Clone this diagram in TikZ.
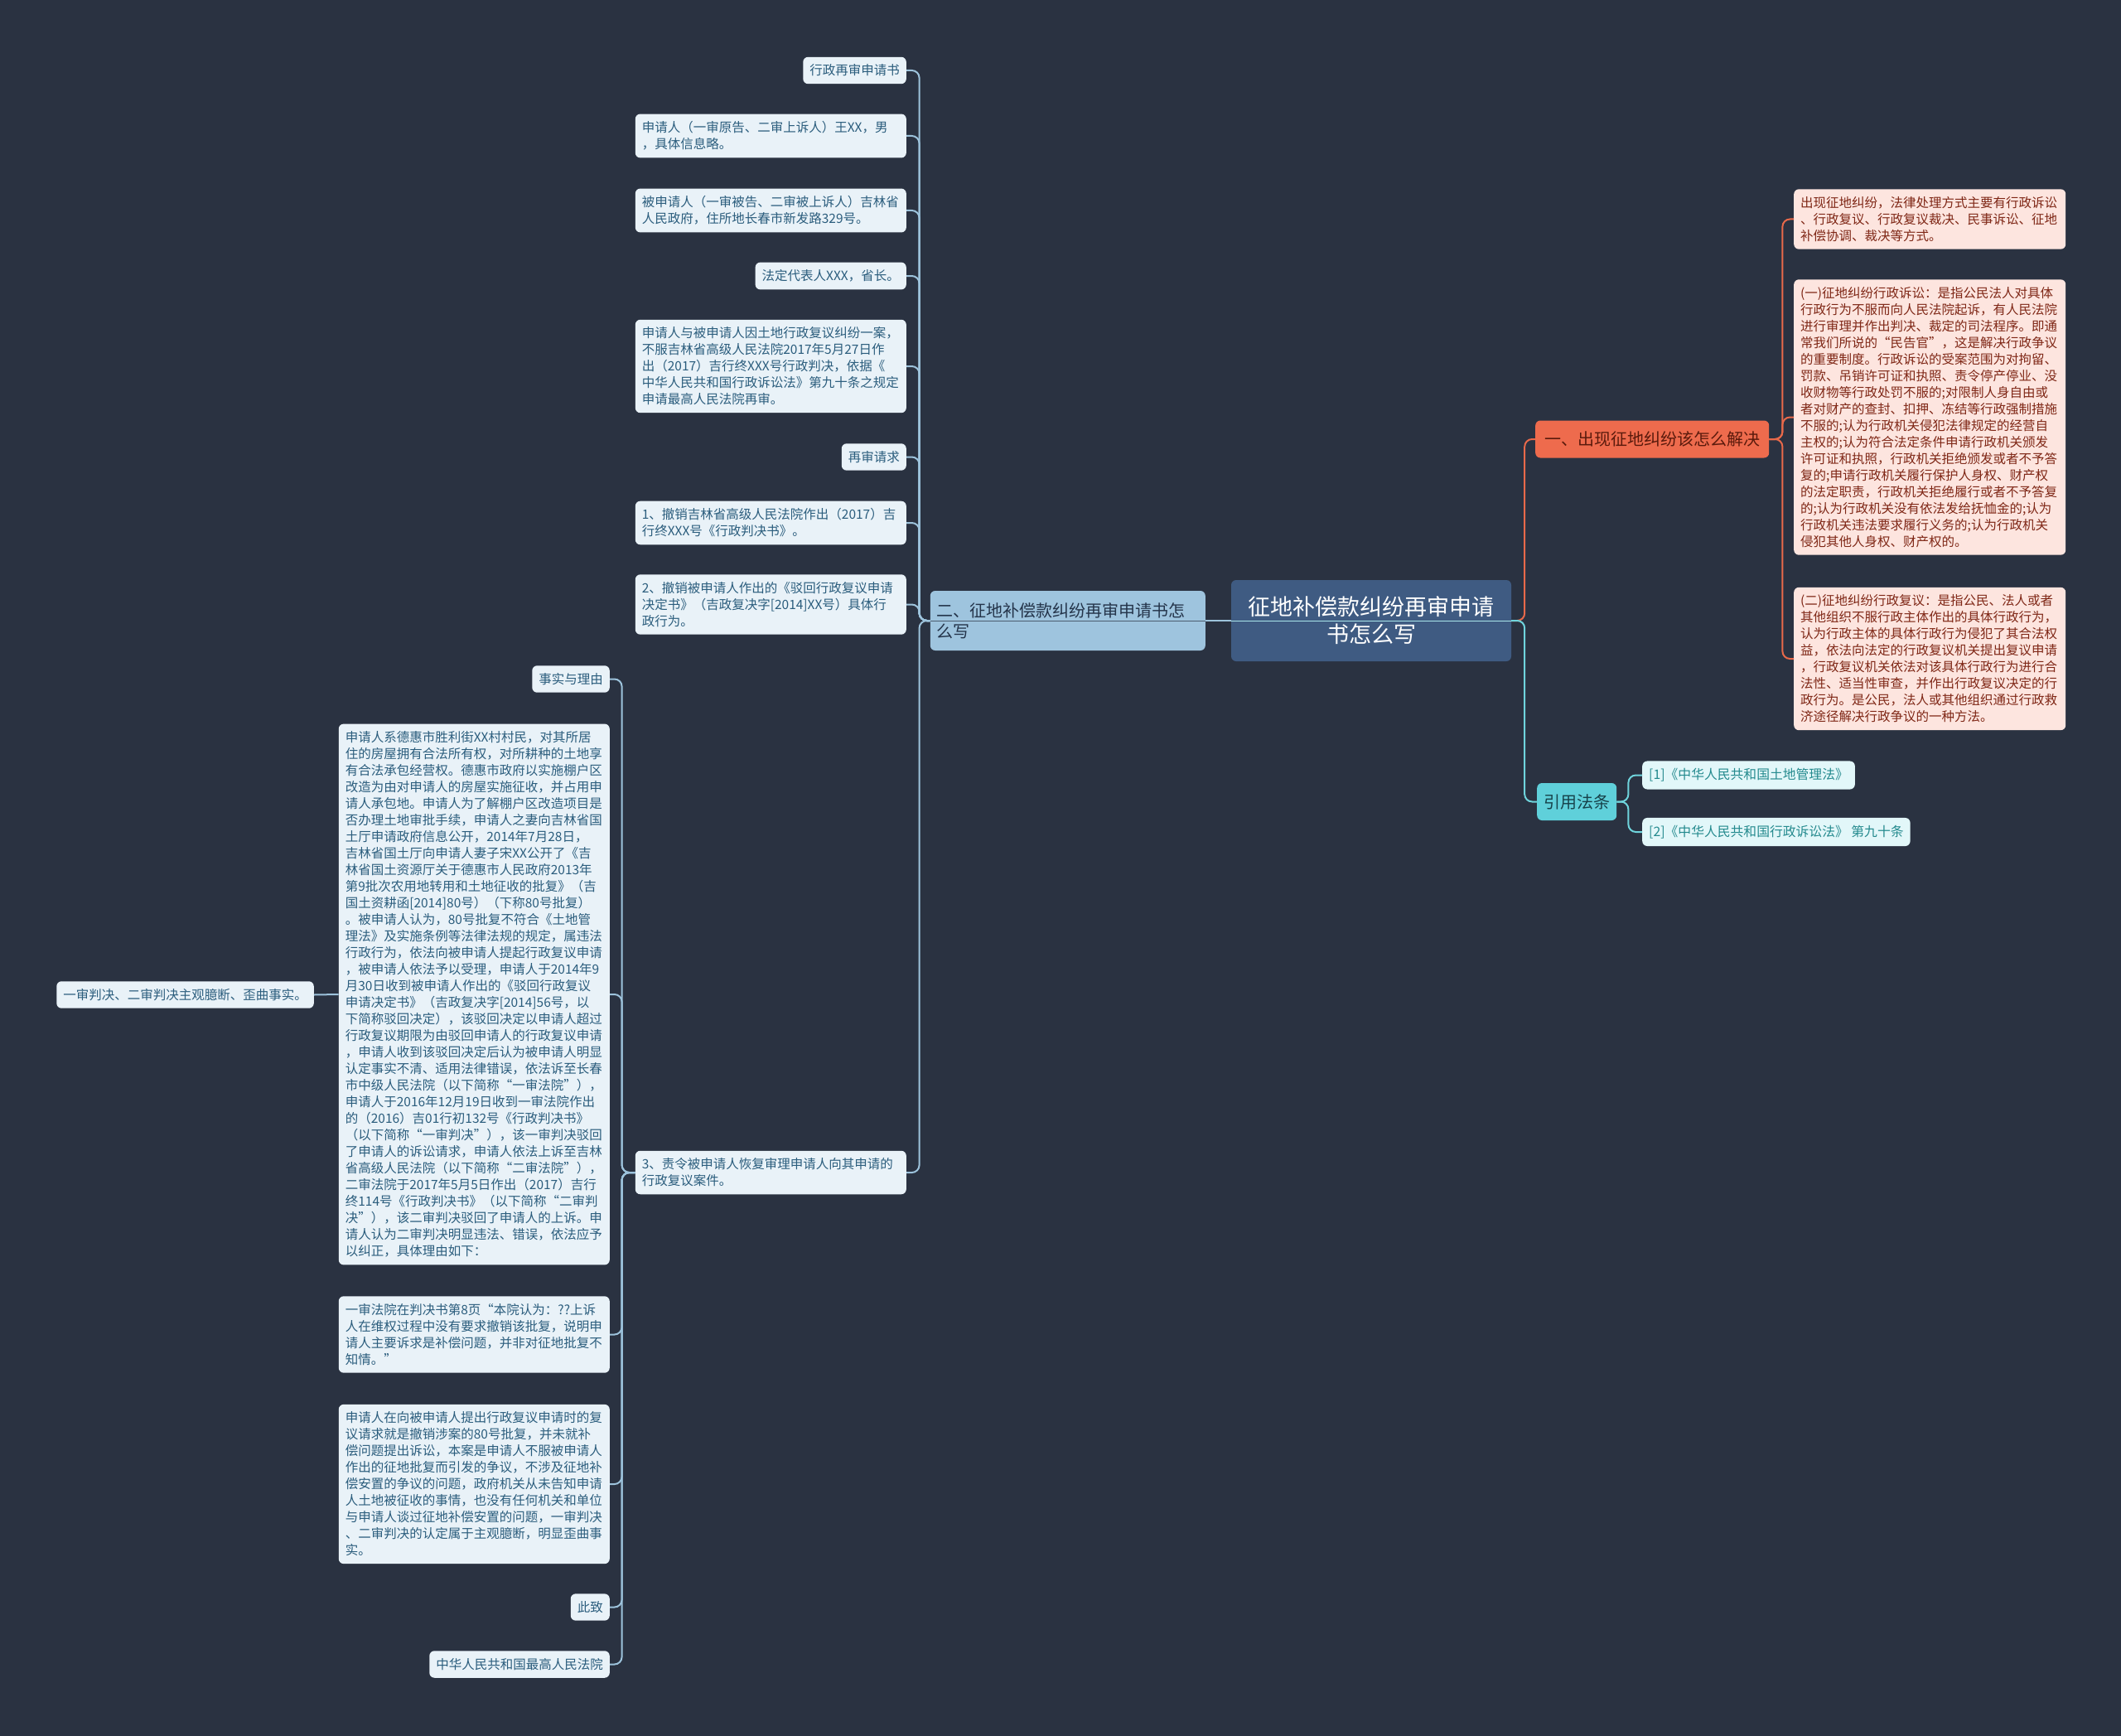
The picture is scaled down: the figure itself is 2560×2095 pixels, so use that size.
\documentclass[tikz,border=0pt]{standalone}
\usepackage{fontspec}
\setmainfont{Noto Sans CJK SC}
\usetikzlibrary{positioning,calc}
\definecolor{bgdark}{HTML}{2A3241}
\definecolor{rootfill}{HTML}{3F5B82}
\definecolor{secbfill}{HTML}{9EC4DE}
\definecolor{secbtext}{HTML}{24344A}
\definecolor{leaffill}{HTML}{E9F2F8}
\definecolor{leaftext}{HTML}{2B5D7D}
\definecolor{linkblue}{HTML}{9DC3DC}
\definecolor{secofill}{HTML}{EE6B4D}
\definecolor{secotext}{HTML}{5A1A0C}
\definecolor{linkorange}{HTML}{E8694A}
\definecolor{pinkfill}{HTML}{FDE5DF}
\definecolor{pinktext}{HTML}{7F2716}
\definecolor{seccfill}{HTML}{5FD0DA}
\definecolor{secctext}{HTML}{17424A}
\definecolor{linkcyan}{HTML}{6FD4DC}
\definecolor{citefill}{HTML}{E2F7F9}
\definecolor{citetext}{HTML}{248A8E}
\tikzset{
  mapnode/.style={rounded corners=6pt, inner xsep=8pt, inner ysep=9pt, align=left},
  leaf/.style={mapnode, fill=leaffill, text=leaftext, font=\fontsize{15.5}{20}\selectfont},
  leafwide/.style={leaf, text width=311pt},
  pinkleaf/.style={mapnode, fill=pinkfill, text=pinktext, text width=312pt,
                   font=\fontsize{15.5}{20}\selectfont},
  citeleaf/.style={mapnode, fill=citefill, text=citetext, font=\fontsize{15.8}{20}\selectfont},
  rootnode/.style={rounded corners=6pt, fill=rootfill, text=white, align=center,
                   minimum width=338pt, minimum height=98pt, font=\fontsize{27}{33}\selectfont},
  topic/.style={rounded corners=6pt, inner xsep=8pt, font=\fontsize{20}{25}\selectfont},
  linkL/.style={draw=linkblue, line width=2pt, rounded corners=9pt},
  linkO/.style={draw=linkorange, line width=2pt, rounded corners=9pt},
  linkC/.style={draw=linkcyan, line width=2pt, rounded corners=9pt},
}
\begin{document}
\begin{tikzpicture}[x=1pt,y=-1pt]
  \fill[bgdark] (0,0) rectangle (2560,2095);
  \useasboundingbox (0,0) rectangle (2560,2095);

  % root and main topics
  \node[rootnode] (root) at (1655,749) {征地补偿款纠纷再审申请\\书怎么写};
  \node[topic, fill=secbfill, text=secbtext, text width=316pt, align=left,
        minimum height=72pt, anchor=east] (secb) at (1455,749)
        {二、征地补偿款纠纷再审申请书怎\\么写};
  \node[topic, fill=secofill, text=secotext, inner xsep=11pt, minimum height=45pt, anchor=west]
        (seco) at (1853,530) {一、出现征地纠纷该怎么解决};
  \node[topic, fill=seccfill, text=secctext, minimum height=45pt, anchor=west]
        (secc) at (1855,967.5) {引用法条};

  % right side
  \node[pinkleaf, anchor=west] (way) at (2165,264.5)
    {出现征地纠纷，法律处理方式主要有行政诉讼\\、行政复议、行政复议裁决、民事诉讼、征地\\补偿协调、裁决等方式。};
  \node[pinkleaf, anchor=west] (suit) at (2165,503.5)
    {(一)征地纠纷行政诉讼：是指公民法人对具体\\行政行为不服而向人民法院起诉，有人民法院\\进行审理并作出判决、裁定的司法程序。即通\\常我们所说的“民告官”，这是解决行政争议\\的重要制度。行政诉讼的受案范围为对拘留、\\罚款、吊销许可证和执照、责令停产停业、没\\收财物等行政处罚不服的;对限制人身自由或\\者对财产的查封、扣押、冻结等行政强制措施\\不服的;认为行政机关侵犯法律规定的经营自\\主权的;认为符合法定条件申请行政机关颁发\\许可证和执照，行政机关拒绝颁发或者不予答\\复的;申请行政机关履行保护人身权、财产权\\的法定职责，行政机关拒绝履行或者不予答复\\的;认为行政机关没有依法发给抚恤金的;认为\\行政机关违法要求履行义务的;认为行政机关\\侵犯其他人身权、财产权的。};
  \node[pinkleaf, anchor=west] (review) at (2165,795)
    {(二)征地纠纷行政复议：是指公民、法人或者\\其他组织不服行政主体作出的具体行政行为，\\认为行政主体的具体行政行为侵犯了其合法权\\益，依法向法定的行政复议机关提出复议申请\\，行政复议机关依法对该具体行政行为进行合\\法性、适当性审查，并作出行政复议决定的行\\政行为。是公民，法人或其他组织通过行政救\\济途径解决行政争议的一种方法。};
  \node[citeleaf, anchor=west] (citeA) at (1982,935.5) {[1]《中华人民共和国土地管理法》};
  \node[citeleaf, anchor=west] (citeB) at (1982,1004) {[2]《中华人民共和国行政诉讼法》 第九十条};

  % left side, first column
  \node[leaf, anchor=east] (title) at (1094,85) {行政再审申请书};
  \node[leafwide, anchor=east] (appl) at (1094,164)
    {申请人（一审原告、二审上诉人）王XX，男\\，具体信息略。};
  \node[leafwide, anchor=east] (resp) at (1094,254)
    {被申请人（一审被告、二审被上诉人）吉林省\\人民政府，住所地长春市新发路329号。};
  \node[leaf, anchor=east] (rep) at (1094,333) {法定代表人XXX，省长。};
  \node[leafwide, anchor=east] (intro) at (1094,442)
    {申请人与被申请人因土地行政复议纠纷一案，\\不服吉林省高级人民法院2017年5月27日作\\出（2017）吉行终XXX号行政判决，依据《\\中华人民共和国行政诉讼法》第九十条之规定\\申请最高人民法院再审。};
  \node[leaf, anchor=east] (req) at (1094,551.5) {再审请求};
  \node[leafwide, anchor=east] (reqA) at (1094,631)
    {1、撤销吉林省高级人民法院作出（2017）吉\\行终XXX号《行政判决书》。};
  \node[leafwide, anchor=east] (reqB) at (1094,729.5)
    {2、撤销被申请人作出的《驳回行政复议申请\\决定书》（吉政复决字[2014]XX号）具体行\\政行为。};
  \node[leafwide, anchor=east] (reqC) at (1094,1415)
    {3、责令被申请人恢复审理申请人向其申请的\\行政复议案件。};

  % left side, second column
  \node[leaf, anchor=east] (facts) at (736,819.5) {事实与理由};
  \node[leafwide, anchor=east] (story) at (736,1200)
    {申请人系德惠市胜利街XX村村民，对其所居\\住的房屋拥有合法所有权，对所耕种的土地享\\有合法承包经营权。德惠市政府以实施棚户区\\改造为由对申请人的房屋实施征收，并占用申\\请人承包地。申请人为了解棚户区改造项目是\\否办理土地审批手续，申请人之妻向吉林省国\\土厅申请政府信息公开，2014年7月28日，\\吉林省国土厅向申请人妻子宋XX公开了《吉\\林省国土资源厅关于德惠市人民政府2013年\\第9批次农用地转用和土地征收的批复》（吉\\国土资耕函[2014]80号）（下称80号批复）\\。被申请人认为，80号批复不符合《土地管\\理法》及实施条例等法律法规的规定，属违法\\行政行为，依法向被申请人提起行政复议申请\\，被申请人依法予以受理，申请人于2014年9\\月30日收到被申请人作出的《驳回行政复议\\申请决定书》（吉政复决字[2014]56号，以\\下简称驳回决定），该驳回决定以申请人超过\\行政复议期限为由驳回申请人的行政复议申请\\，申请人收到该驳回决定后认为被申请人明显\\认定事实不清、适用法律错误，依法诉至长春\\市中级人民法院（以下简称“一审法院”），\\申请人于2016年12月19日收到一审法院作出\\的（2016）吉01行初132号《行政判决书》\\（以下简称“一审判决”），该一审判决驳回\\了申请人的诉讼请求，申请人依法上诉至吉林\\省高级人民法院（以下简称“二审法院”），\\二审法院于2017年5月5日作出（2017）吉行\\终114号《行政判决书》（以下简称“二审判\\决”），该二审判决驳回了申请人的上诉。申\\请人认为二审判决明显违法、错误，依法应予\\以纠正，具体理由如下：};
  \node[leaf, anchor=east] (judg) at (379,1200.5) {一审判决、二审判决主观臆断、歪曲事实。};
  \node[leafwide, anchor=east] (quote) at (736,1610.5)
    {一审法院在判决书第8页“本院认为：??上诉\\人在维权过程中没有要求撤销该批复，说明申\\请人主要诉求是补偿问题，并非对征地批复不\\知情。”};
  \node[leafwide, anchor=east] (argue) at (736,1791)
    {申请人在向被申请人提出行政复议申请时的复\\议请求就是撤销涉案的80号批复，并未就补\\偿问题提出诉讼，本案是申请人不服被申请人\\作出的征地批复而引发的争议，不涉及征地补\\偿安置的争议的问题，政府机关从未告知申请\\人土地被征收的事情，也没有任何机关和单位\\与申请人谈过征地补偿安置的问题，一审判决\\、二审判决的认定属于主观臆断，明显歪曲事\\实。};
  \node[leaf, anchor=east] (cizhi) at (736,1939.5) {此致};
  \node[leaf, anchor=east] (court) at (736,2008.5) {中华人民共和国最高人民法院};

  % connectors
  \draw[linkL] (root.west) -- (secb.east);
  \foreach \c in {title,appl,resp,rep,intro,req,reqA,reqB,reqC}
    \draw[linkL] (secb.west) -- ++(-13,0) |- (\c.east);
  \foreach \c in {facts,story,quote,argue,cizhi,court}
    \draw[linkL] (reqC.west) -- ++(-16,0) |- (\c.east);
  \draw[linkL] (story.west) -- (judg.east);
  \draw[linkO] (root.east) -- ++(16,0) |- (seco.west);
  \draw[linkC] (root.east) -- ++(16,0) |- (secc.west);
  \foreach \c in {way,suit,review}
    \draw[linkO] (seco.east) -- ++(16,0) |- (\c.west);
  \foreach \c in {citeA,citeB}
    \draw[linkC] (secc.east) -- ++(14,0) |- (\c.west);
  \draw[linkL, line width=1pt, draw=bgdark!70!linkblue] (secb.west) -- (secb.east);
  \draw[linkC, line width=1pt, draw=linkcyan!60!white] (root.west) -- (root.east);
\end{tikzpicture}
\end{document}
